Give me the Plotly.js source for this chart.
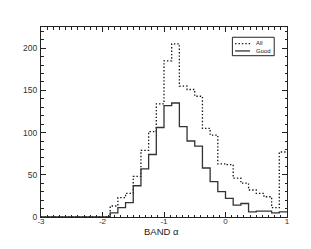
<!DOCTYPE html>
<html>
<head>
<meta charset="utf-8">
<script src="https://cdn.plot.ly/plotly-3.0.1.min.js"></script>
<style>html,body{margin:0;padding:0;background:#fff;}#chart{width:311px;height:249px;}</style>
</head>
<body>
<div id="chart"></div>
<script>
// Bin left edges (width 0.125) from -3 to 0.875, plus final right edge 1
const binEdges = [-3, -2.875, -2.75, -2.625, -2.5, -2.375, -2.25, -2.125,
  -2, -1.875, -1.75, -1.625, -1.5, -1.375, -1.25, -1.125,
  -1, -0.875, -0.75, -0.625, -0.5, -0.375, -0.25, -0.125,
  0, 0.125, 0.25, 0.375, 0.5, 0.625, 0.75, 0.875, 1];
const allCounts = [0, 0, 0, 0, 0, 0, 0, 0,
  0, 13, 23, 28, 48, 79, 101, 134,
  185, 205, 155, 151, 143, 105, 97, 63,
  62, 46, 40, 32, 28, 24, 11, 77];
const goodCounts = [0, 0, 0, 0, 0, 0, 0, 0,
  0, 5, 11, 17, 37, 57, 74, 106,
  132, 135, 107, 90, 84, 58, 42, 30,
  22, 14, 16, 6, 7, 7, 5, 6];
const seriesNames = ["All", "Good"];
const xTitle = "BAND α";
const xTickVals = [-3, -2, -1, 0, 1];
const xTickText = ["-3", "-2", "-1", "0", "1"];
const yTickVals = [0, 50, 100, 150, 200];

function stepY(counts) { return counts.concat([counts[counts.length - 1]]); }

const allDash = "1.4px,2px";
const allLine = { shape: "hv", color: "#111", width: 1.3, dash: allDash };
const goodLine = { shape: "hv", color: "#333", width: 1.3 };

const traces = [
  { x: binEdges, y: stepY(allCounts), name: seriesNames[0], type: "scatter", mode: "lines", line: allLine },
  { x: binEdges, y: stepY(goodCounts), name: seriesNames[1], type: "scatter", mode: "lines", line: goodLine }
];

const font = "Liberation Sans, Arial, sans-serif";
// hand-drawn compact legend (paper coordinates)
const legendShapes = [
  { type: "rect", xref: "paper", yref: "paper", x0: 0.778, x1: 0.948, y0: 0.849, y1: 0.946,
    line: { color: "#222", width: 1 }, fillcolor: "#fff" },
  { type: "line", xref: "paper", yref: "paper", x0: 0.789, x1: 0.850, y0: 0.912, y1: 0.912,
    line: { color: "#111", width: 1.3, dash: allDash } },
  { type: "line", xref: "paper", yref: "paper", x0: 0.789, x1: 0.850, y0: 0.874, y1: 0.874,
    line: { color: "#333", width: 1.3 } }
];
const textAnns = [
  { xref: "paper", yref: "paper", x: 0.866, y: 0.914, xanchor: "left", yanchor: "middle",
    text: seriesNames[0], showarrow: false, font: { family: font, size: 6, color: "#222" } },
  { xref: "paper", yref: "paper", x: 0.866, y: 0.876, xanchor: "left", yanchor: "middle",
    text: seriesNames[1], showarrow: false, font: { family: font, size: 6, color: "#222" } },
  { xref: "paper", yref: "paper", x: 0.49, y: -0.078, xanchor: "center", yanchor: "middle",
    text: xTitle, showarrow: false, font: { family: font, size: 9.5, color: "#222" } }
];

const layout = {
  width: 311, height: 249,
  margin: { l: 41, r: 24, t: 27, b: 32, pad: 0 },
  paper_bgcolor: "#fff", plot_bgcolor: "#fff",
  showlegend: false,
  shapes: legendShapes,
  annotations: textAnns,
  xaxis: { range: [-3, 1], tickmode: "array", tickvals: xTickVals, ticktext: xTickText,
    ticks: "inside", ticklen: 5, tickcolor: "#222", tickwidth: 1,
    minor: { dtick: 0.1, ticks: "inside", ticklen: 2.5, tickcolor: "#222", showgrid: false },
    showline: true, linecolor: "#222", linewidth: 1, mirror: "allticks",
    showgrid: false, zeroline: false, ticklabelstandoff: -4,
    tickfont: { family: font, size: 8, color: "#333" } },
  yaxis: { range: [0, 225], tickmode: "array", tickvals: yTickVals,
    ticks: "inside", ticklen: 5, tickcolor: "#222", tickwidth: 1,
    minor: { dtick: 10, ticks: "inside", ticklen: 2.5, tickcolor: "#222", showgrid: false },
    showline: true, linecolor: "#222", linewidth: 1, mirror: "allticks",
    showgrid: false, zeroline: false, ticklabelstandoff: 1,
    tickfont: { family: font, size: 8.5, color: "#333" } }
};

Plotly.newPlot("chart", traces, layout, { staticPlot: true, displayModeBar: false });
</script>
</body>
</html>
